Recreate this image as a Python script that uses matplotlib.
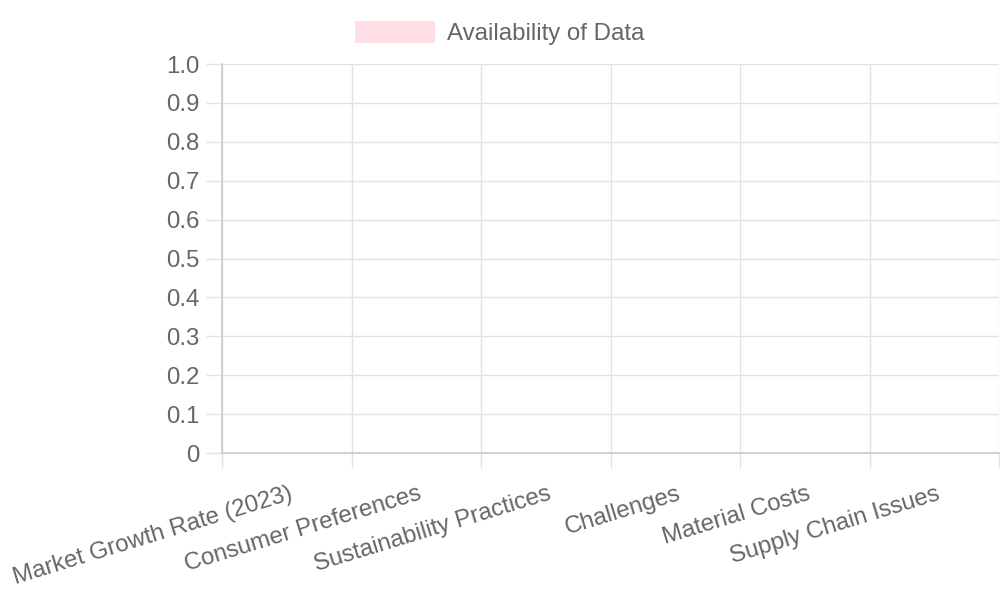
import numpy as np
import matplotlib
matplotlib.use("Agg")
from matplotlib import pyplot as plt
from matplotlib.patches import Patch
from matplotlib.transforms import ScaledTranslation

# data
categories = ["Market Growth Rate (2023)", "Consumer Preferences", "Sustainability Practices",
              "Challenges", "Material Costs", "Supply Chain Issues"]
values = [0, 0, 0, 0, 0, 0]
series_name = "Availability of Data"

plt.rcParams['font.family'] = ['Liberation Sans', 'DejaVu Sans']
fs = 17.3           # 24 px at dpi 100
txt = '#666666'
grid = '#e2e2e2'
axis_col = '#cccccc'
bar_face = (1.0, 99/255, 132/255, 0.2)
bar_edge = (1.0, 99/255, 132/255, 1.0)

fig = plt.figure(figsize=(10, 6), dpi=100)
ax = fig.add_axes([0.222, 0.245, 0.777, 0.6483])

x = np.arange(len(categories)) + 0.5
ax.bar(x, values, width=0.8, color=bar_face, edgecolor=bar_edge, linewidth=0)

ax.set_xlim(0, len(categories))
ax.set_ylim(0, 1.0)

# grid lines at category boundaries
ax.set_xticks(np.arange(len(categories) + 1), minor=True)
ax.set_xticks(x)
ax.set_xticklabels(categories, rotation=17, ha='right', va='center',
                   rotation_mode='anchor', fontsize=fs, color=txt)
ax.tick_params(axis='x', which='major', length=0, pad=29)
ax.tick_params(axis='x', which='minor', length=10.8, color=grid, width=1.0)
ax.grid(True, axis='x', which='minor', color=grid, linewidth=1.0)
shift = ScaledTranslation(5/100, 0, fig.dpi_scale_trans)
for lab in ax.get_xticklabels():
    lab.set_transform(lab.get_transform() + shift)

yt = np.round(np.arange(0, 1.01, 0.1), 1)
ax.set_yticks(yt)
ax.set_yticklabels(["0" if v == 0 else f"{v:.1f}" for v in yt], fontsize=fs, color=txt)
ax.tick_params(axis='y', length=11.5, color=grid, width=1.0, pad=5)
ax.grid(True, axis='y', color=grid, linewidth=1.0)
ax.set_axisbelow(True)

for s in ['top', 'right']:
    ax.spines[s].set_visible(False)
for s in ['left', 'bottom']:
    ax.spines[s].set_color(axis_col)
    ax.spines[s].set_linewidth(1.3)

handle = Patch(facecolor=bar_face, edgecolor='none')
fig.legend([handle], [series_name], loc='center', bbox_to_anchor=(0.5, 0.945),
           frameon=False, fontsize=fs, labelcolor=txt,
           handlelength=3.33, handleheight=1.0, handletextpad=0.5)

fig.savefig("out.png", dpi=100)
